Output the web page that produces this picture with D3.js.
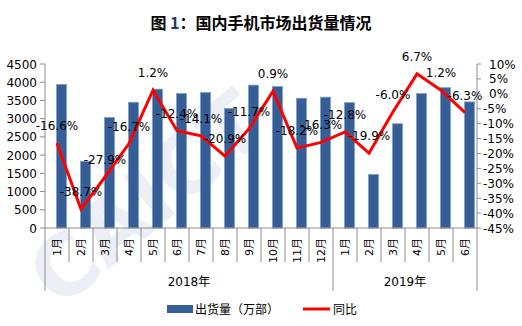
<!DOCTYPE html>
<html><head><meta charset="utf-8">
<script src="https://cdn.jsdelivr.net/npm/d3@7"></script>
<style>
body{margin:0;background:#fff;}
svg{display:block;font-family:"DejaVu Sans","Noto Sans CJK SC",sans-serif;}
</style></head>
<body><svg id="c" width="522" height="326"></svg>
<script>
const months = ["1月","2月","3月","4月","5月","6月","7月","8月","9月","10月","11月","12月","1月","2月","3月","4月","5月","6月"];
const years = [{label:"2018年", from:0, to:12},{label:"2019年", from:12, to:18}];
const shipments = [3940,1830,3030,3450,3810,3690,3720,3280,3920,3880,3560,3590,3440,1470,2860,3690,3850,3460];
const yoy = [-16.6,-38.7,-27.9,-16.7,1.2,-12.4,-14.1,-20.9,-11.7,0.9,-18.2,-16.3,-12.8,-19.9,-6.0,6.7,1.2,-6.3];
const leftTicks = [0,500,1000,1500,2000,2500,3000,3500,4000,4500];
const rightTicks = [10,5,0,-5,-10,-15,-20,-25,-30,-35,-40,-45];

const svg = d3.select("#c");
const L=45, R=477, T=64, B=228;
const x = d3.scaleBand().domain(d3.range(months.length)).range([L,R]);
const yL = d3.scaleLinear().domain([0,4500]).range([B,T]);
const yR = d3.scaleLinear().domain([-45,10]).range([B,T]);

// watermark
svg.append("text").attr("transform","translate(60,310) rotate(-40)")
  .attr("font-size",84).attr("font-weight","bold").attr("fill","#c9d3e3").attr("opacity",0.35)
  .attr("font-family","DejaVu Sans").text("CAICT");

// title
const title = svg.append("text").attr("x",261).attr("y",29).attr("text-anchor","middle")
  .attr("font-family","'Noto Sans CJK SC'").attr("font-weight","bold").attr("font-size",16).attr("fill","#000");
title.append("tspan").text("图 ");
title.append("tspan").attr("fill","#1f3a68").text("1");
title.append("tspan").text("：国内手机市场出货量情况");

// bars
svg.append("g").selectAll("rect").data(shipments).join("rect")
  .attr("x",(d,i)=>x(i)+x.bandwidth()/2-0.5)
  .attr("width",10)
  .attr("y",d=>yL(d))
  .attr("height",d=>B-yL(d))
  .attr("fill","#375f97").attr("stroke","#7e9dc9").attr("stroke-width",0.8);

// axes
const ax = svg.append("g").attr("stroke","#8c8c8c").attr("stroke-width",1).attr("fill","none");
ax.append("line").attr("x1",L).attr("x2",L).attr("y1",T).attr("y2",291);
ax.append("line").attr("x1",R).attr("x2",R).attr("y1",T).attr("y2",291);
ax.append("line").attr("x1",L).attr("x2",R).attr("y1",B).attr("y2",B);
leftTicks.forEach(t=>ax.append("line").attr("x1",L-5).attr("x2",L).attr("y1",yL(t)).attr("y2",yL(t)));
rightTicks.forEach(t=>ax.append("line").attr("x1",R).attr("x2",R+4).attr("y1",yR(t)).attr("y2",yR(t)));
d3.range(1,months.length).forEach(i=>{
  const isYear = years.some(y=>y.from===i);
  ax.append("line").attr("x1",x(i)).attr("x2",x(i)).attr("y1",B).attr("y2",isYear?291:262);
});

// left tick labels
svg.append("g").selectAll("text").data(leftTicks).join("text")
  .attr("x",37).attr("y",d=>yL(d)+4.5).attr("text-anchor","end")
  .attr("font-size",12).attr("fill","#000").text(d=>d);
// right tick labels
svg.append("g").selectAll("text").data(rightTicks).join("text")
  .attr("x",d=>d<0?483:489).attr("y",d=>yR(d)+4.5)
  .attr("font-size",12).attr("fill","#000").text(d=>d+"%");

// month labels
svg.append("g").selectAll("text").data(months).join("text")
  .attr("transform",(d,i)=>`translate(${x(i)+x.bandwidth()/2+4},238) rotate(-90)`)
  .attr("text-anchor","end").attr("font-size",11).attr("fill","#000").text(d=>d);
// year labels
svg.append("g").selectAll("text").data(years).join("text")
  .attr("x",d=>(x(d.from)+ (d.to<months.length?x(d.to):R))/2).attr("y",286)
  .attr("text-anchor","middle").attr("font-size",12).attr("fill","#000").text(d=>d.label);

// line
const line = d3.line().x((d,i)=>x(i)+x.bandwidth()/2).y(d=>yR(d));
svg.append("path").datum(yoy).attr("d",line).attr("fill","none")
  .attr("stroke","#ff0000").attr("stroke-width",3).attr("stroke-linejoin","miter");
svg.append("g").selectAll("text").data(yoy).join("text")
  .attr("x",(d,i)=>x(i)+x.bandwidth()/2).attr("y",d=>yR(d)-13)
  .attr("text-anchor","middle").attr("font-size",12).attr("fill","#000")
  .text(d=>d.toFixed(1)+"%");

// legend
svg.append("rect").attr("x",167).attr("y",305).attr("width",26).attr("height",8).attr("fill","#375f97");
svg.append("text").attr("x",195).attr("y",314).attr("font-size",12).attr("fill","#000").text("出货量（万部）");
svg.append("line").attr("x1",303).attr("x2",330).attr("y1",309).attr("y2",309).attr("stroke","#ff0000").attr("stroke-width",3);
svg.append("text").attr("x",333).attr("y",314).attr("font-size",12).attr("fill","#000").text("同比");
</script></body></html>
